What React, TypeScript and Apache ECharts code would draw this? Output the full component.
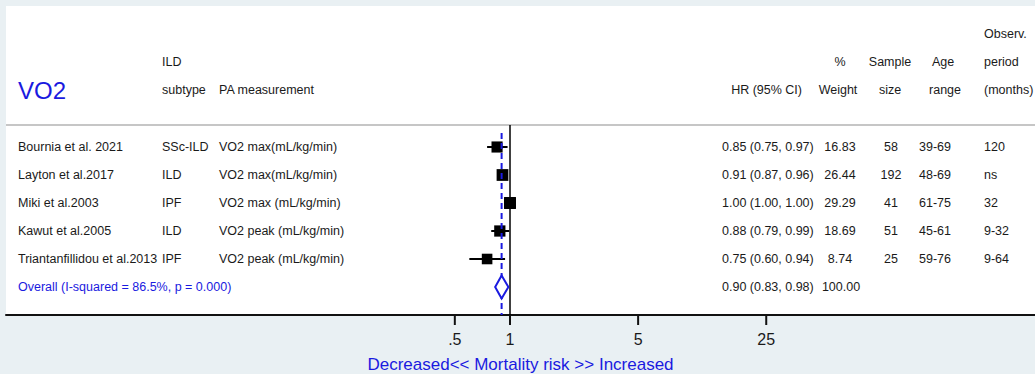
import React, { useEffect, useRef } from "react";
import * as echarts from "echarts";

// ---------- data ----------
const studies = [
  "Bournia et al. 2021",
  "Layton et al.2017",
  "Miki et al.2003",
  "Kawut et al.2005",
  "Triantanfillidou et al.2013",
];
const subtypes = ["SSc-ILD", "ILD", "IPF", "ILD", "IPF"];
const measurements = [
  "VO2 max(mL/kg/min)",
  "VO2 max(mL/kg/min)",
  "VO2 max (mL/kg/min)",
  "VO2 peak (mL/kg/min)",
  "VO2 peak (mL/kg/min)",
];
const hr = [0.85, 0.91, 1.0, 0.88, 0.75];
const ciLow = [0.75, 0.87, 1.0, 0.79, 0.6];
const ciHigh = [0.97, 0.96, 1.0, 0.99, 0.94];
const weights = [16.83, 26.44, 29.29, 18.69, 8.74];
const sampleSizes = ["58", "192", "41", "51", "25"];
const ageRanges = ["39-69", "48-69", "61-75", "45-61", "59-76"];
const periods = ["120", "ns", "32", "9-32", "9-64"];

const overallLabel = "Overall (I-squared = 86.5%, p = 0.000)";
const overallHr = 0.9;
const overallLow = 0.83;
const overallHigh = 0.98;
const overallWeight = "100.00";

const tickValues = [0.5, 1, 5, 25];
const tickLabels = [".5", "1", "5", "25"];
const axisTitle = "Decreased<< Mortality risk >> Increased";

// ---------- layout ----------
const FONT = "Liberation Sans, Arial, Helvetica, sans-serif";
const BLUE = "#1a1ae0";
const TXT = "#1a1a1a";
const X_MIN = -2.7496;
const X_MAX = 2.8642;
const FS = 12.5;

const fmtCI = (a: number, b: number, c: number) =>
  `${a.toFixed(2)} (${b.toFixed(2)}, ${c.toFixed(2)})`;

const txt = (
  x: number,
  y: number,
  text: string,
  align: string = "left",
  opts: any = {}
) => ({
  type: "text",
  x,
  y,
  silent: true,
  style: {
    text,
    fill: opts.fill || TXT,
    font: `${opts.size || FS}px ${FONT}`,
    align,
    textAlign: align,
    verticalAlign: "middle",
    textVerticalAlign: "middle",
  },
});

export default function App() {
  const ref = useRef<HTMLDivElement>(null);

  useEffect(() => {
    if (!ref.current) return;
    const chart = echarts.init(ref.current, undefined, { renderer: "svg" });

    const log = (v: number) => Math.log10(v);

    const headers = [
      txt(18, 90, "VO2", "left", { size: 24, fill: BLUE }),
      txt(162, 62, "ILD"),
      txt(162, 90, "subtype"),
      txt(219, 90, "PA measurement"),
      txt(802, 90, "HR (95% CI)", "right"),
      txt(840, 62, "%", "center"),
      txt(838, 90, "Weight", "center"),
      txt(890, 62, "Sample", "center"),
      txt(890, 90, "size", "center"),
      txt(943, 62, "Age", "center"),
      txt(945, 90, "range", "center"),
      txt(984, 34, "Observ."),
      txt(984, 62, "period"),
      txt(984, 90, "(months)"),
    ];

    const option: any = {
      animation: false,
      backgroundColor: "#e9f0f3",
      graphic: [
        {
          type: "rect",
          z: -10,
          silent: true,
          shape: { x: 6, y: 6, width: 1029, height: 309 },
          style: { fill: "#ffffff" },
        },
        {
          type: "line",
          z: -5,
          silent: true,
          shape: { x1: 6, y1: 125, x2: 1035, y2: 125 },
          style: { stroke: "#c6c6c6", lineWidth: 2 },
        },
        ...headers,
      ],
      grid: {
        left: 6,
        right: 0,
        top: 125,
        bottom: 59,
        containLabel: false,
        outerBoundsMode: "none",
      },
      xAxis: {
        type: "value",
        min: X_MIN,
        max: X_MAX,
        splitLine: { show: false },
        axisLine: { show: true, lineStyle: { color: "#111", width: 2 } },
        axisTick: { show: false },
        axisLabel: {
          show: true,
          customValues: tickValues.map(log),
          margin: 16,
          color: TXT,
          fontSize: 16,
          fontFamily: FONT,
          formatter: (v: number) => {
            let best = 0;
            tickValues.forEach((t, i) => {
              if (Math.abs(log(t) - v) < Math.abs(log(tickValues[best]) - v)) best = i;
            });
            return tickLabels[best];
          },
        },
        name: axisTitle,
        nameLocation: "middle",
        nameGap: 41,
        nameTextStyle: { color: BLUE, fontSize: 17, fontFamily: FONT },
      },
      yAxis: {
        type: "value",
        inverse: true,
        min: 3 / 14,
        max: 7,
        show: false,
      },
      series: [
        {
          type: "custom",
          name: "ticks",
          z: 8,
          silent: true,
          clip: false,
          data: tickValues.map((v) => [log(v), 7]),
          encode: { x: 0, y: 1 },
          renderItem: (params: any, api: any) => {
            const p = api.coord([api.value(0), api.value(1)]);
            return {
              type: "line",
              shape: { x1: p[0], y1: p[1], x2: p[0], y2: p[1] + 10 },
              style: { stroke: "#111", lineWidth: 2 },
            };
          },
        },
        {
          type: "custom",
          name: "studies",
          z: 5,
          data: hr.map((v, i) => [log(v), i + 1, log(ciLow[i]), log(ciHigh[i]), weights[i]]),
          encode: { x: 0, y: 1 },
          renderItem: (params: any, api: any) => {
            const y = api.value(1);
            const c = api.coord([api.value(0), y]);
            const l = api.coord([api.value(2), y]);
            const h = api.coord([api.value(3), y]);
            const s = 10 + api.value(4) / 15;
            return {
              type: "group",
              children: [
                {
                  type: "line",
                  shape: { x1: l[0], y1: l[1], x2: h[0], y2: h[1] },
                  style: { stroke: "#000", lineWidth: 2 },
                },
                {
                  type: "rect",
                  shape: { x: c[0] - s / 2, y: c[1] - s / 2, width: s, height: s },
                  style: { fill: "#000" },
                },
              ],
            };
          },
          markLine: {
            silent: true,
            symbol: "none",
            label: { show: false },
            lineStyle: { color: "#000", width: 1.5, type: "solid" },
            data: [{ xAxis: 0 }],
          },
        },
        {
          type: "custom",
          name: "overall",
          z: 6,
          data: [[log(overallHr), studies.length + 1, log(overallLow), log(overallHigh)]],
          encode: { x: 0, y: 1 },
          renderItem: (params: any, api: any) => {
            const y = api.value(1);
            const c = api.coord([api.value(0), y]);
            const l = api.coord([api.value(2), y]);
            const h = api.coord([api.value(3), y]);
            const top = api.coord([api.value(0), 0.5]);
            const bot = api.coord([api.value(0), 7]);
            const hh = 11.5;
            return {
              type: "group",
              children: [
                {
                  type: "line",
                  shape: { x1: top[0], y1: top[1], x2: bot[0], y2: bot[1] },
                  style: { stroke: BLUE, lineWidth: 2, lineDash: [6, 4] },
                },
                {
                  type: "polygon",
                  shape: {
                    points: [
                      [l[0], l[1]],
                      [c[0], c[1] - hh],
                      [h[0], h[1]],
                      [c[0], c[1] + hh],
                    ],
                  },
                  style: { fill: "#fff", stroke: BLUE, lineWidth: 2 },
                },
              ],
            };
          },
        },
        {
          type: "custom",
          name: "table",
          z: 7,
          data: [...studies.map((_, i) => [0, i + 1, i]), [0, studies.length + 1, -1]],
          encode: { x: 0, y: 1 },
          renderItem: (params: any, api: any) => {
            const y = api.coord([0, api.value(1)])[1];
            const i = api.value(2);
            if (i < 0) {
              return {
                type: "group",
                children: [
                  txt(18, y, overallLabel, "left", { fill: BLUE }),
                  txt(722, y, fmtCI(overallHr, overallLow, overallHigh)),
                  txt(841, y, overallWeight, "center"),
                ],
              };
            }
            return {
              type: "group",
              children: [
                txt(18, y, studies[i]),
                txt(162, y, subtypes[i]),
                txt(219, y, measurements[i]),
                txt(722, y, fmtCI(hr[i], ciLow[i], ciHigh[i])),
                txt(840, y, weights[i].toFixed(2), "center"),
                txt(891, y, sampleSizes[i], "center"),
                txt(935, y, ageRanges[i], "center"),
                txt(984, y, periods[i]),
              ],
            };
          },
        },
      ],
    };

    chart.setOption(option);
    return () => chart.dispose();
  }, []);

  return (
    <div
      ref={ref}
      style={{ position: "fixed", left: 0, top: 0, width: 1035, height: 374 }}
    />
  );
}
